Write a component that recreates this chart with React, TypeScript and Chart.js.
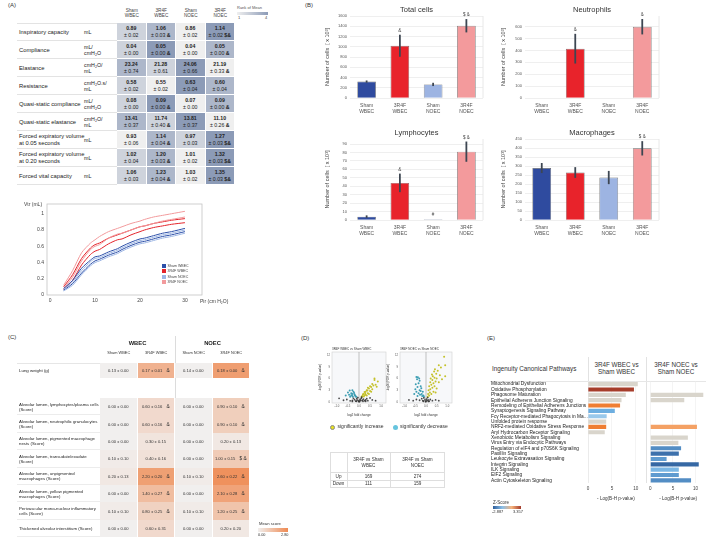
import React, { useEffect, useRef } from "react";
import { Chart, registerables } from "chart.js";

Chart.register(...registerables);
const FONT = "'Liberation Sans', Arial, Helvetica, sans-serif";
Chart.defaults.font.family = FONT;

// ================= DATA =================
const groups = ["Sham WBEC", "3R4F WBEC", "Sham NOEC", "3R4F NOEC"];

// Panel A – lung function table
const lfParams = [
  "Inspiratory capacity",
  "Compliance",
  "Elastance",
  "Resistance",
  "Quasi-static compliance",
  "Quasi-static elastance",
  "Forced expiratory volume\nat 0.05 seconds",
  "Forced expiratory volume\nat 0.20 seconds",
  "Forced vital capacity",
];
const lfUnits = ["mL", "mL/\ncmH₂O", "cmH₂O/\nmL", "cmH₂O.s/\nmL", "mL/\ncmH₂O", "cmH₂O/\nmL", "mL", "mL", "mL"];
const lfMeans = [
  [0.89, 1.06, 0.86, 1.14],
  [0.04, 0.05, 0.04, 0.05],
  [23.24, 21.28, 24.06, 21.19],
  [0.58, 0.55, 0.63, 0.6],
  [0.08, 0.09, 0.07, 0.09],
  [13.41, 11.74, 13.81, 11.1],
  [0.93, 1.14, 0.97, 1.27],
  [1.02, 1.2, 1.01, 1.32],
  [1.06, 1.23, 1.03, 1.35],
];
const lfSem = [
  [0.02, 0.03, 0.02, 0.02],
  [0.0, 0.0, 0.0, 0.0],
  [0.74, 0.61, 0.66, 0.33],
  [0.02, 0.02, 0.04, 0.04],
  [0.0, 0.0, 0.0, 0.0],
  [0.37, 0.4, 0.37, 0.26],
  [0.06, 0.04, 0.03, 0.03],
  [0.04, 0.03, 0.02, 0.03],
  [0.03, 0.04, 0.02, 0.03],
];
const lfMarks = [
  ["", "&", "", "$&"],
  ["", "&", "", "&"],
  ["", "", "", "&"],
  ["", "", "", ""],
  ["", "&", "", "&"],
  ["", "&", "", "&"],
  ["", "&", "", "$&"],
  ["", "&", "", "$&"],
  ["", "&", "", "$&"],
];
const lfRanks = [
  [2, 3, 1, 4],
  [2, 4, 1, 3],
  [3, 2, 4, 1],
  [2, 1, 4, 3],
  [2, 4, 1, 3],
  [3, 2, 4, 1],
  [1, 3, 2, 4],
  [2, 3, 1, 4],
  [2, 3, 1, 4],
];

// Panel A – pressure/volume curves
const pirPoints = [3, 5, 7, 9, 10, 11, 13, 15, 16, 18, 20, 21, 23, 25, 27, 30];
const vShamWbecUpper = [0.08, 0.18, 0.33, 0.43, 0.47, 0.48, 0.53, 0.57, 0.6, 0.65, 0.69, 0.7, 0.73, 0.76, 0.78, 0.82];
const vShamWbecLower = [0.06, 0.14, 0.27, 0.38, 0.42, 0.44, 0.49, 0.53, 0.56, 0.61, 0.65, 0.66, 0.69, 0.72, 0.74, 0.78];
const v3r4fWbecUpper = [0.1, 0.25, 0.45, 0.58, 0.62, 0.64, 0.7, 0.74, 0.76, 0.8, 0.84, 0.85, 0.88, 0.9, 0.92, 0.94];
const v3r4fWbecLower = [0.07, 0.18, 0.37, 0.5, 0.54, 0.56, 0.63, 0.68, 0.69, 0.74, 0.78, 0.8, 0.83, 0.85, 0.87, 0.89];
const vShamNoecUpper = [0.07, 0.16, 0.3, 0.41, 0.45, 0.46, 0.51, 0.55, 0.58, 0.63, 0.67, 0.68, 0.71, 0.74, 0.76, 0.8];
const vShamNoecLower = [0.05, 0.12, 0.25, 0.36, 0.4, 0.42, 0.47, 0.51, 0.54, 0.59, 0.63, 0.64, 0.67, 0.7, 0.72, 0.76];
const v3r4fNoecUpper = [0.12, 0.3, 0.52, 0.64, 0.68, 0.72, 0.78, 0.82, 0.84, 0.88, 0.91, 0.93, 0.96, 0.98, 1.0, 1.03];
const v3r4fNoecLower = [0.08, 0.22, 0.42, 0.56, 0.6, 0.62, 0.7, 0.75, 0.76, 0.8, 0.84, 0.85, 0.88, 0.91, 0.93, 0.96];

// Panel B – BALF cell counts (x10^3)
const totalCells = [320, 1020, 265, 1410];
const totalCellsErr = [22, 215, 32, 130];
const totalCellsSig = ["", "&", "", "$ &"];
const neutrophils = [3, 415, 2, 600];
const neutrophilsErr = [0, 125, 0, 65];
const neutrophilsSig = ["", "&", "", "&"];
const lymphocytes = [4, 44, 1, 81];
const lymphocytesErr = [1.5, 11, 0, 12];
const lymphocytesSig = ["", "&", "#", "$ &"];
const macrophages = [290, 265, 237, 400];
const macrophagesErr = [28, 30, 37, 40];
const macrophagesSig = ["", "", "", "$ &"];

// Panel C – histopathology
const lungWeight = [0.13, 0.17, 0.14, 0.18];
const lungWeightSem = [0.0, 0.01, 0.0, 0.0];
const lungWeightMarks = ["", "&", "", "&"];
const histoRows = [
  "Alveolar lumen, lymphocytes/plasma cells\n(Score)",
  "Alveolar lumen, neutrophilic granulocytes\n(Score)",
  "Alveolar lumen, pigmented macrophage\nnests (Score)",
  "Alveolar lumen, transudate/exudate\n(Score)",
  "Alveolar lumen, unpigmented\nmacrophages (Score)",
  "Alveolar lumen, yellow pigmented\nmacrophages (Score)",
  "Perivascular mono-nuclear inflammatory\ncells (Score)",
  "Thickened alveolar interstitium (Score)",
];
const histoMeans = [
  [0.0, 0.6, 0.0, 0.9],
  [0.0, 0.6, 0.0, 0.9],
  [0.0, 0.3, 0.0, 0.2],
  [0.1, 0.4, 0.0, 1.0],
  [0.2, 2.2, 0.1, 2.6],
  [0.0, 1.4, 0.0, 2.1],
  [0.1, 0.8, 0.1, 1.2],
  [0.0, 0.6, 0.0, 0.2],
];
const histoSem = [
  [0.0, 0.16, 0.0, 0.1],
  [0.0, 0.16, 0.0, 0.1],
  [0.0, 0.15, 0.0, 0.13],
  [0.1, 0.16, 0.0, 0.15],
  [0.13, 0.2, 0.1, 0.22],
  [0.0, 0.27, 0.0, 0.28],
  [0.1, 0.25, 0.1, 0.25],
  [0.0, 0.31, 0.0, 0.2],
];
const histoMarks = [
  ["", "&", "", "&"],
  ["", "&", "", "&"],
  ["", "", "", ""],
  ["", "", "", "$ &"],
  ["", "&", "", "&"],
  ["", "&", "", "&"],
  ["", "&", "", "&"],
  ["", "", "", ""],
];

// Panel D – volcano plots (log2 fold change, -log10 FDR p)
const volcWbecNs = [[-0.9, 0.9], [-0.7, 0.4], [-0.55, 0.6], [-0.4, 0.25], [-0.3, 0.35], [-0.25, 0.9], [-0.2, 0.55], [-0.15, 0.2], [-0.1, 0.8], [-0.08, 0.45], [-0.05, 1.1], [-0.02, 0.1], [0, 0.3], [0.02, 0.05], [0.05, 0.6], [0.08, 0.3], [0.1, 0.9], [0.12, 1.2], [0.15, 0.4], [0.2, 0.7], [0.25, 0.3], [0.3, 0.5], [0.35, 0.8], [0.4, 0.3], [0.5, 1.0], [0.6, 0.5], [0.75, 0.3], [-0.12, 0.15], [0.18, 0.12], [-0.3, 0.1], [0.3, 0.15]];
const volcWbecDown = [[-0.5, 2.4], [-0.45, 1.8], [-0.42, 2.9], [-0.4, 1.3], [-0.35, 2.2], [-0.35, 1.7], [-0.3, 1.5], [-0.3, 3.0], [-0.28, 1.3], [-0.25, 2.6], [-0.22, 2.3], [-0.2, 1.9], [-0.18, 1.6], [-0.15, 1.4], [-0.12, 1.3], [-0.6, 1.6], [-0.3, 2.0]];
const volcWbecUp = [[0.12, 1.3], [0.15, 1.5], [0.18, 1.9], [0.2, 2.0], [0.22, 1.4], [0.25, 2.5], [0.28, 2.2], [0.3, 1.8], [0.3, 2.6], [0.35, 3.0], [0.38, 2.9], [0.4, 2.2], [0.4, 3.6], [0.45, 3.4], [0.45, 2.0], [0.5, 2.8], [0.5, 4.0], [0.55, 3.8], [0.55, 2.6], [0.6, 3.2], [0.6, 4.6], [0.65, 4.2], [0.7, 5.6], [0.75, 4.4], [0.8, 3.9], [0.85, 5.2], [0.7, 6.0], [0.35, 1.6], [0.25, 1.7]];
const volcNoecNs = [[-0.8, 0.5], [-0.6, 0.3], [-0.45, 0.6], [-0.3, 0.4], [-0.2, 0.8], [-0.15, 0.3], [-0.1, 1.0], [-0.05, 0.5], [0, 0.2], [0.02, 0.7], [0.05, 0.3], [0.08, 1.1], [0.1, 0.5], [0.15, 0.2], [0.2, 0.6], [0.3, 0.3], [0.45, 0.5], [0.6, 0.3], [-0.02, 0.05], [0.12, 0.1], [-0.12, 0.15]];
const volcNoecDown = [[-0.55, 2.0], [-0.5, 3.2], [-0.48, 4.5], [-0.45, 2.6], [-0.42, 5.8], [-0.4, 3.8], [-0.38, 6.3], [-0.35, 2.2], [-0.35, 4.8], [-0.32, 6.0], [-0.3, 3.0], [-0.3, 5.4], [-0.28, 1.8], [-0.25, 4.0], [-0.25, 2.8], [-0.22, 3.5], [-0.2, 2.0], [-0.18, 1.5], [-0.15, 2.6], [-0.12, 1.6], [-0.1, 1.3], [-0.4, 1.5], [-0.45, 6.4]];
const volcNoecUp = [[0.08, 1.3], [0.1, 2.0], [0.12, 3.0], [0.15, 1.6], [0.15, 4.0], [0.18, 2.4], [0.2, 5.0], [0.2, 3.2], [0.22, 6.0], [0.25, 2.0], [0.25, 4.4], [0.28, 7.0], [0.3, 3.6], [0.3, 5.6], [0.32, 6.6], [0.35, 2.6], [0.35, 4.8], [0.38, 7.8], [0.4, 4.0], [0.4, 6.2], [0.42, 8.4], [0.45, 5.2], [0.48, 7.2], [0.5, 3.4], [0.5, 6.0], [0.55, 8.0], [0.6, 5.0], [0.65, 6.8], [0.7, 8.8], [0.75, 5.8], [0.85, 11.6], [0.9, 9.4], [0.9, 6.6], [0.6, 9.4], [0.45, 2.4]];
const volcTitles = ["3R4F WBEC vs Sham WBEC", "3R4F NOEC vs Sham NOEC"];

// Panel D – DEG table
const degComparisons = ["3R4F vs Sham\nWBEC", "3R4F vs Sham\nNOEC"];
const degUp = [169, 274];
const degDown = [111, 159];

// Panel E – IPA canonical pathways
const pathways = [
  "Mitochondrial Dysfunction",
  "Oxidative Phosphorylation",
  "Phagosome Maturation",
  "Epithelial Adherens Junction Signaling",
  "Remodeling of Epithelial Adherens Junctions",
  "Synaptogenesis Signaling Pathway",
  "Fcγ Receptor-mediated Phagocytosis in Ma...",
  "Unfolded protein response",
  "NRF2-mediated Oxidative Stress Response",
  "Aryl Hydrocarbon Receptor Signaling",
  "Xenobiotic Metabolism Signaling",
  "Virus Entry via Endocytic Pathways",
  "Regulation of eIF4 and p70S6K Signaling",
  "Paxillin Signaling",
  "Leukocyte Extravasation Signaling",
  "Integrin Signaling",
  "ILK Signaling",
  "EIF2 Signaling",
  "Actin Cytoskeleton Signaling",
];
const wbecLogP = [10.4, 9.6, 7.9, 7.0, 6.7, 5.6, 3.9, 3.8, 3.8, 3.5, null, null, null, null, null, null, null, null, null];
const wbecZ = [null, 3.3, null, null, 2.0, -1.2, -0.6, null, 2.0, null, null, null, null, null, null, null, null, null, null];
const noecLogP = [null, null, 11.7, 7.5, null, null, null, null, 10.3, null, 8.3, 6.2, 6.8, 6.3, 3.6, 10.7, 6.3, 6.3, 9.0];
const noecZ = [null, null, null, null, null, null, null, null, 1.2, null, null, null, -1.9, -2.5, -1.6, -2.7, -1.0, -1.6, -1.9];
const zRange = [-2.887, 3.357];

// ================= HELPERS =================
function hexRgb(c: string) {
  return [parseInt(c.slice(1, 3), 16), parseInt(c.slice(3, 5), 16), parseInt(c.slice(5, 7), 16)];
}
function mix(a: string, b: string, t: number) {
  const A = hexRgb(a), B = hexRgb(b);
  const k = Math.max(0, Math.min(1, t));
  return `rgb(${A.map((v, i) => Math.round(v + (B[i] - v) * k)).join(",")})`;
}
function rankColor(r: number) {
  return mix("#efefef", "#8c9bb7", (r - 1) / 3);
}
function scoreColor(v: number) {
  return mix("#f1efee", "#ef8a52", v / 2.8);
}
function weightColor(v: number) {
  return mix("#f1efee", "#ef8a52", (v - 0.14) / 0.05);
}
function zColor(z: number | null) {
  if (z === null) return "#d9d5cc";
  if (z < 0) {
    const t = Math.min(1, -z / -zRange[0]);
    return t < 0.4 ? mix("#c6e2f5", "#6fb0e2", t / 0.4) : mix("#6fb0e2", "#2f5f9c", (t - 0.4) / 0.6);
  }
  const t = Math.min(1, z / zRange[1]);
  return t < 0.6 ? mix("#fbd6ad", "#ef7d32", t / 0.6) : mix("#ef7d32", "#a33a2b", (t - 0.6) / 0.4);
}

function ChartCanvas({ x, y, w, h, make }: { x: number; y: number; w: number; h: number; make: () => any }) {
  const ref = useRef<HTMLCanvasElement>(null);
  useEffect(() => {
    const c = new Chart(ref.current as HTMLCanvasElement, make());
    return () => c.destroy();
  }, []);
  return (
    <canvas
      ref={ref}
      width={w}
      height={h}
      style={{ position: "absolute", left: x, top: y, width: w, height: h }}
    />
  );
}

function Txt(props: any) {
  const { x, y, s, b, c, w, align, lh, children, extra } = props;
  return (
    <div
      style={{
        position: "absolute",
        left: x,
        top: y,
        fontSize: s,
        fontWeight: b ? "bold" : "normal",
        color: c || "#222",
        whiteSpace: "pre",
        lineHeight: lh ? lh + "px" : 1.15,
        textAlign: align || "left",
        width: w,
        ...(extra || {}),
      }}
    >
      {children}
    </div>
  );
}

// explicit tick list from start to end with a given step
const fixedTicks = (start: number, end: number, step: number) => (scale: any) => {
  const t: any[] = [];
  const n = Math.round((end - start) / step);
  for (let k = 0; k <= n; k++) t.push({ value: Number((start + k * step).toFixed(6)) });
  scale.ticks = t;
};

// ================= PANEL A =================
function PanelATable() {
  const colX = [117, 146.5, 176, 205.5];
  const colW = 29.5;
  const rowH = 18;
  const top0 = 23;
  return (
    <>
      {groups.map((g, j) => (
        <Txt key={"h" + j} x={colX[j]} y={7.5} w={colW} s={4.7} c="#444" align="center" lh={5.6}>
          {g.replace(" ", "\n")}
        </Txt>
      ))}
      <Txt x={237} y={6} s={4} c="#555">Rank of Mean</Txt>
      <div
        style={{
          position: "absolute",
          left: 237,
          top: 12,
          width: 31,
          height: 3,
          background: `linear-gradient(to right, ${rankColor(1)}, ${rankColor(4)})`,
        }}
      />
      <Txt x={238} y={16} s={4} c="#444">1</Txt>
      <Txt x={265} y={16} s={4} c="#444">4</Txt>
      <div style={{ position: "absolute", left: 17, top: top0, width: 100, height: 0, borderTop: "0.8px solid #e3e3e3" }} />
      {lfParams.map((p, i) => {
        const y = top0 + i * rowH;
        return (
          <React.Fragment key={"r" + i}>
            <div
              style={{
                position: "absolute",
                left: 17,
                top: y,
                width: 100,
                height: rowH,
                boxSizing: "border-box",
                borderBottom: "0.8px solid #e3e3e3",
              }}
            />
            <div style={{ position: "absolute", left: 19, top: y, height: rowH, display: "flex", alignItems: "center" }}>
              <div style={{ fontSize: 5.8, lineHeight: "6.6px", whiteSpace: "pre", color: "#222" }}>{p}</div>
            </div>
            <div style={{ position: "absolute", left: 84, top: y, height: rowH, display: "flex", alignItems: "center" }}>
              <div style={{ fontSize: 5.3, lineHeight: "6.2px", whiteSpace: "pre", color: "#222" }}>{lfUnits[i]}</div>
            </div>
            {lfMeans[i].map((m, j) => (
              <div
                key={j}
                style={{
                  position: "absolute",
                  left: colX[j],
                  top: y,
                  width: colW,
                  height: rowH,
                  boxSizing: "border-box",
                  background: rankColor(lfRanks[i][j]),
                  borderRight: "0.8px solid #fff",
                  borderBottom: "0.8px solid #fff",
                  display: "flex",
                  flexDirection: "column",
                  alignItems: "center",
                  justifyContent: "center",
                  fontSize: 5.2,
                  lineHeight: "6.2px",
                  color: "#222",
                }}
              >
                <div style={{ fontWeight: "bold" }}>{m.toFixed(2)}</div>
                <div style={{ whiteSpace: "pre" }}>
                  {"± " + lfSem[i][j].toFixed(2)}
                  {lfMarks[i][j] ? <b>{" " + lfMarks[i][j]}</b> : null}
                </div>
              </div>
            ))}
          </React.Fragment>
        );
      })}
    </>
  );
}

const lineStyles = [
  { label: "Sham NOEC", color: "#9db6e4", upper: vShamNoecUpper, lower: vShamNoecLower },
  { label: "Sham WBEC", color: "#2c4fa8", upper: vShamWbecUpper, lower: vShamWbecLower },
  { label: "3R4F NOEC", color: "#f29a9c", upper: v3r4fNoecUpper, lower: v3r4fNoecLower },
  { label: "3R4F WBEC", color: "#e4242b", upper: v3r4fWbecUpper, lower: v3r4fWbecLower },
];
const legendOrder = [
  { label: "Sham WBEC", color: "#2c4fa8" },
  { label: "3R4F WBEC", color: "#e4242b" },
  { label: "Sham NOEC", color: "#9db6e4" },
  { label: "3R4F NOEC", color: "#f29a9c" },
];

function makeLineChart() {
  const datasets: any[] = [];
  lineStyles.forEach((s) => {
    [s.upper, s.lower].forEach((arr) => {
      datasets.push({
        label: s.label,
        data: pirPoints.map((p, k) => ({ x: p, y: arr[k] })),
        borderColor: s.color,
        borderWidth: 1,
        pointRadius: 0,
        showLine: true,
        fill: false,
        tension: 0.25,
      });
    });
  });
  return {
    type: "scatter",
    data: { datasets },
    options: {
      animation: false,
      responsive: false,
      events: [],
      layout: { padding: { top: 8, right: 8, left: 0, bottom: 0 } },
      plugins: { legend: { display: false }, tooltip: { enabled: false } },
      scales: {
        x: {
          type: "linear",
          min: -0.7,
          max: 33.8,
          grid: { display: false, drawTicks: false },
          border: { display: false },
          ticks: { font: { size: 5 }, color: "#444", padding: 3, callback: (v: any) => String(v) },
          afterBuildTicks: fixedTicks(0, 30, 10),
          afterFit: (s: any) => {
            s.height = 13;
          },
        },
        y: {
          min: 0,
          max: 1.12,
          grid: { display: false, drawTicks: false },
          border: { display: false },
          ticks: {
            font: { size: 5 },
            color: "#444",
            padding: 3,
            callback: (v: any) => String(Number(Number(v).toFixed(1))),
          },
          afterBuildTicks: fixedTicks(0, 1, 0.2),
          afterFit: (s: any) => {
            s.width = 22;
          },
        },
      },
    },
    plugins: [
      {
        id: "frame",
        beforeDatasetsDraw(chart: any) {
          const { ctx, chartArea: a } = chart;
          ctx.save();
          ctx.strokeStyle = "#c4c4c4";
          ctx.lineWidth = 0.8;
          ctx.strokeRect(a.left, a.top, a.width, a.height);
          ctx.restore();
        },
      },
    ],
  };
}

// ================= PANEL B =================
const barColors = ["#2f4b9f", "#e8232b", "#9db4e2", "#f39a9c"];

function makeBarChart(
  title: string,
  values: number[],
  errs: number[],
  sigs: string[],
  yMax: number,
  step: number,
  yAxisW: number,
  xAxisH: number
) {
  const lastTick = Math.floor(yMax / step + 1e-9) * step;
  return {
    type: "bar",
    data: {
      labels: groups.map((g) => g.split(" ")),
      datasets: [
        {
          data: values,
          backgroundColor: barColors,
          borderColor: "#6a6a6a",
          borderWidth: 0.7,
          barPercentage: 0.56,
          categoryPercentage: 1,
        },
      ],
    },
    options: {
      animation: false,
      responsive: false,
      events: [],
      layout: { padding: { top: 16, right: 5, left: 4, bottom: 0 } },
      plugins: { legend: { display: false }, tooltip: { enabled: false } },
      scales: {
        x: {
          grid: { display: false, drawTicks: false },
          border: { display: false },
          ticks: { font: { size: 5 }, color: "#555", padding: 5, maxRotation: 0, autoSkip: false },
          afterFit: (s: any) => {
            s.height = xAxisH;
          },
        },
        y: {
          min: 0,
          max: yMax,
          grid: { color: "#e8e8e8", lineWidth: 0.7, drawTicks: false },
          border: { display: false },
          ticks: { font: { size: 4 }, color: "#555", padding: 3, callback: (v: any) => String(v) },
          afterBuildTicks: fixedTicks(0, lastTick, step),
          title: { display: true, text: "Number of cells  [ x 10³]", font: { size: 5.5 }, color: "#444", padding: 0 },
          afterFit: (s: any) => {
            s.width = yAxisW;
          },
        },
      },
    },
    plugins: [
      {
        id: "extras",
        beforeDatasetsDraw(chart: any) {
          const { ctx, chartArea: a } = chart;
          ctx.save();
          ctx.strokeStyle = "#e2e2e2";
          ctx.lineWidth = 0.8;
          ctx.beginPath();
          ctx.moveTo(a.right, a.top);
          ctx.lineTo(a.right, a.bottom);
          ctx.stroke();
          ctx.restore();
        },
        afterDatasetsDraw(chart: any) {
          const { ctx, chartArea: a } = chart;
          const xs = chart.scales.x, ys = chart.scales.y;
          ctx.save();
          values.forEach((v, i) => {
            const px = xs.getPixelForValue(i);
            const e = errs[i];
            if (e > 0) {
              ctx.strokeStyle = "#3d4652";
              ctx.lineWidth = 1.8;
              ctx.beginPath();
              ctx.moveTo(px, ys.getPixelForValue(v + e));
              ctx.lineTo(px, ys.getPixelForValue(Math.max(0, v - e)));
              ctx.stroke();
            }
            if (sigs[i]) {
              ctx.fillStyle = "#444";
              ctx.font = `4.5px ${FONT}`;
              ctx.textAlign = "center";
              ctx.textBaseline = "bottom";
              ctx.fillText(sigs[i], px, ys.getPixelForValue(v + e) - 2);
            }
          });
          ctx.fillStyle = "#333";
          ctx.font = `7.5px ${FONT}`;
          ctx.textAlign = "center";
          ctx.textBaseline = "middle";
          ctx.fillText(title, (a.left + a.right) / 2, a.top - 6);
          ctx.restore();
        },
      },
    ],
  };
}

// ================= PANEL C =================
function CellValue({ m, s, mark }: { m: number; s: number; mark: string }) {
  return (
    <div style={{ display: "flex", alignItems: "center", justifyContent: "center", width: "100%", whiteSpace: "pre" }}>
      <span>{m.toFixed(2) + " ± " + s.toFixed(2)}</span>
      {mark ? <span style={{ marginLeft: 4, fontSize: 4.8 }}>{mark}</span> : null}
    </div>
  );
}

function PanelCTable() {
  const colX = [100, 137.5, 175, 212.5];
  const colW = 37.5;
  const rowY0 = 398;
  const rowH = 17.4;
  return (
    <>
      <Txt x={100} y={339.5} w={75} s={5.8} b c="#222" align="center">WBEC</Txt>
      <Txt x={175} y={339.5} w={75} s={5.8} b c="#222" align="center">NOEC</Txt>
      {groups.map((g, j) => (
        <Txt key={"ch" + j} x={colX[j]} y={350.5} w={colW} s={3.9} c="#333" align="center">{g}</Txt>
      ))}
      <div style={{ position: "absolute", left: 175, top: 336, width: 0, height: 201, borderLeft: "0.8px solid #dcdcdc" }} />
      <div style={{ position: "absolute", left: 17, top: 362.5, width: 233, height: 0, borderTop: "0.6px solid #e6e6e6" }} />
      <div style={{ position: "absolute", left: 19, top: 363, height: 15, display: "flex", alignItems: "center", fontSize: 4.4, color: "#222" }}>
        Lung weight (g)
      </div>
      {lungWeight.map((m, j) => (
        <div
          key={"lw" + j}
          style={{
            position: "absolute",
            left: colX[j],
            top: 363,
            width: colW,
            height: 15,
            background: weightColor(m),
            boxSizing: "border-box",
            borderRight: "0.8px solid #fff",
            display: "flex",
            alignItems: "center",
            fontSize: 4.1,
            color: "#333",
          }}
        >
          <CellValue m={m} s={lungWeightSem[j]} mark={lungWeightMarks[j]} />
        </div>
      ))}
      {histoRows.map((r, i) => {
        const y = rowY0 + i * rowH;
        return (
          <React.Fragment key={"hr" + i}>
            <div
              style={{
                position: "absolute",
                left: 17,
                top: y,
                width: 83,
                height: rowH,
                boxSizing: "border-box",
                borderBottom: "0.6px solid #ececec",
              }}
            />
            <div style={{ position: "absolute", left: 19, top: y, height: rowH, display: "flex", alignItems: "center" }}>
              <div style={{ fontSize: 4.3, lineHeight: "5px", whiteSpace: "pre", color: "#222" }}>{r}</div>
            </div>
            {histoMeans[i].map((m, j) => (
              <div
                key={j}
                style={{
                  position: "absolute",
                  left: colX[j],
                  top: y,
                  width: colW,
                  height: rowH,
                  background: scoreColor(m),
                  boxSizing: "border-box",
                  borderRight: "0.8px solid #fff",
                  display: "flex",
                  alignItems: "center",
                  fontSize: 4.1,
                  color: "#333",
                }}
              >
                <CellValue m={m} s={histoSem[i][j]} mark={histoMarks[i][j]} />
              </div>
            ))}
          </React.Fragment>
        );
      })}
      <Txt x={259} y={521.5} s={4.2} c="#333">Mean score</Txt>
      <div
        style={{
          position: "absolute",
          left: 258,
          top: 527.5,
          width: 30,
          height: 4,
          background: `linear-gradient(to right, ${scoreColor(0)}, ${scoreColor(2.8)})`,
        }}
      />
      <Txt x={258} y={532.5} s={3.8} c="#333">0.00</Txt>
      <Txt x={281} y={532.5} s={3.8} c="#333">2.80</Txt>
    </>
  );
}

// ================= PANEL D =================
function makeVolcano(title: string, ns: number[][], down: number[][], up: number[][], yAxisW: number, padRight: number) {
  const toPts = (a: number[][]) => a.map((p) => ({ x: p[0], y: p[1] }));
  return {
    type: "scatter",
    data: {
      datasets: [
        { data: toPts(ns), backgroundColor: "rgba(45,45,45,0.85)", pointRadius: 0.9, pointBorderWidth: 0 },
        { data: toPts(down), backgroundColor: "#3c9db2", pointRadius: 1.0, pointBorderWidth: 0 },
        { data: toPts(up), backgroundColor: "#c4c12a", pointRadius: 1.0, pointBorderWidth: 0 },
      ],
    },
    options: {
      animation: false,
      responsive: false,
      events: [],
      layout: { padding: { top: 8, right: padRight, left: 0, bottom: 0 } },
      plugins: { legend: { display: false }, tooltip: { enabled: false } },
      scales: {
        x: {
          type: "linear",
          min: -1.22,
          max: 1.22,
          grid: { display: false, drawTicks: false },
          border: { display: false },
          ticks: { font: { size: 2.8 }, color: "#555", padding: 2, callback: (v: any) => Number(v).toFixed(1) },
          afterBuildTicks: fixedTicks(-1, 1, 0.5),
          title: { display: true, text: "log2 fold change", font: { size: 3.2 }, color: "#333", padding: 0.5 },
          afterFit: (s: any) => {
            s.height = 15;
          },
        },
        y: {
          min: -0.3,
          max: 12.8,
          grid: { display: false, drawTicks: false },
          border: { display: false },
          ticks: { font: { size: 2.8 }, color: "#555", padding: 2, callback: (v: any) => String(v) },
          afterBuildTicks: fixedTicks(0, 12, 3),
          title: { display: true, text: "-log10(FDR p-value)", font: { size: 3 }, color: "#333", padding: 0 },
          afterFit: (s: any) => {
            s.width = yAxisW;
          },
        },
      },
    },
    plugins: [
      {
        id: "volc",
        beforeDatasetsDraw(chart: any) {
          const { ctx, chartArea: a } = chart;
          const x0 = chart.scales.x.getPixelForValue(0);
          ctx.save();
          ctx.fillStyle = "#f7f8fa";
          ctx.fillRect(a.left, a.top, a.width, a.height);
          ctx.strokeStyle = "#d0d0d0";
          ctx.lineWidth = 0.6;
          ctx.strokeRect(a.left, a.top, a.width, a.height);
          ctx.strokeStyle = "#9a9a9a";
          ctx.beginPath();
          ctx.moveTo(x0, a.top);
          ctx.lineTo(x0, a.bottom);
          ctx.stroke();
          ctx.fillStyle = "#333";
          ctx.font = `3px ${FONT}`;
          ctx.textAlign = "left";
          ctx.textBaseline = "bottom";
          ctx.fillText(title, a.left, a.top - 1.5);
          ctx.restore();
        },
      },
    ],
  };
}

function PanelDTable() {
  const L = 330, R = 445, T = 452;
  const c1 = 347, c2 = 390;
  const r1 = 472, r2 = 480, B = 487.5;
  const line = "0.7px solid #dedede";
  return (
    <>
      <div style={{ position: "absolute", left: L, top: T, width: R - L, height: B - T, border: line, boxSizing: "border-box" }} />
      <div style={{ position: "absolute", left: c1, top: T, width: 0, height: B - T, borderLeft: line }} />
      <div style={{ position: "absolute", left: c2, top: T, width: 0, height: B - T, borderLeft: line }} />
      <div style={{ position: "absolute", left: L, top: r1, width: R - L, height: 0, borderTop: line }} />
      <div style={{ position: "absolute", left: L, top: r2, width: R - L, height: 0, borderTop: line }} />
      <Txt x={c1} y={457} w={c2 - c1} s={4.6} c="#333" align="center" lh={5.6}>{degComparisons[0]}</Txt>
      <Txt x={c2} y={457} w={R - c2} s={4.6} c="#333" align="center" lh={5.6}>{degComparisons[1]}</Txt>
      <Txt x={L} y={473.5} w={c1 - L} s={4.6} c="#333" align="center">Up</Txt>
      <Txt x={L} y={481.2} w={c1 - L} s={4.6} c="#333" align="center">Down</Txt>
      <Txt x={c1} y={473.5} w={c2 - c1} s={4.6} c="#333" align="center">{String(degUp[0])}</Txt>
      <Txt x={c2} y={473.5} w={R - c2} s={4.6} c="#333" align="center">{String(degUp[1])}</Txt>
      <Txt x={c1} y={481.2} w={c2 - c1} s={4.6} c="#333" align="center">{String(degDown[0])}</Txt>
      <Txt x={c2} y={481.2} w={R - c2} s={4.6} c="#333" align="center">{String(degDown[1])}</Txt>
    </>
  );
}

// ================= PANEL E =================
function makePathwayChart(values: (number | null)[], zs: (number | null)[], showLabels: boolean, xMax: number, padLeft: number, padRight: number) {
  const yScale: any = {
    display: showLabels,
    grid: { display: false, drawTicks: false },
    border: { display: false },
    ticks: { font: { size: 4.8 }, color: "#222", padding: 1, crossAlign: "far", autoSkip: false },
  };
  if (showLabels) {
    yScale.afterFit = (s: any) => {
      s.width = 97;
    };
  }
  return {
    type: "bar",
    data: {
      labels: pathways,
      datasets: [
        {
          data: values,
          backgroundColor: zs.map((z) => zColor(z)),
          borderWidth: 0,
          barPercentage: 0.78,
          categoryPercentage: 1,
        },
      ],
    },
    options: {
      indexAxis: "y",
      animation: false,
      responsive: false,
      events: [],
      layout: { padding: { top: 5.5, right: padRight, left: padLeft, bottom: 0 } },
      plugins: { legend: { display: false }, tooltip: { enabled: false } },
      scales: {
        x: {
          type: "linear",
          min: 0,
          max: xMax,
          grid: { color: "#efefef", lineWidth: 0.7, drawTicks: false },
          border: { display: false },
          ticks: { font: { size: 4.6 }, color: "#444", padding: 3, callback: (v: any) => String(v) },
          afterBuildTicks: fixedTicks(0, 10, 5),
          title: { display: true, text: "- Log(B-H p-value)", font: { size: 4.6 }, color: "#333", padding: 1 },
          afterFit: (s: any) => {
            s.height = 19;
          },
        },
        y: yScale,
      },
    },
  };
}

// ================= APP =================
export default function App() {
  return (
    <div
      style={{
        position: "absolute",
        left: 0,
        top: 0,
        width: 709,
        height: 542,
        background: "#fff",
        overflow: "hidden",
        fontFamily: FONT,
      }}
    >
      {/* Panel labels */}
      <Txt x={8} y={2} s={6} c="#333">(A)</Txt>
      <Txt x={305} y={2} s={6} c="#333">(B)</Txt>
      <Txt x={8} y={334} s={6} c="#333">(C)</Txt>
      <Txt x={301} y={334.5} s={6} c="#333">(D)</Txt>
      <Txt x={487} y={334.5} s={6} c="#333">(E)</Txt>

      {/* Panel A */}
      <PanelATable />
      <ChartCanvas x={25} y={196} w={185} h={112} make={makeLineChart} />
      <Txt x={24} y={202} s={5} c="#444">Vtr (mL)</Txt>
      <Txt x={200} y={299} s={5} c="#444">Pir (cm H₂O)</Txt>
      <div style={{ position: "absolute", left: 161, top: 262, width: 28, height: 24, background: "#fff" }}>
        {legendOrder.map((l, k) => (
          <div key={k} style={{ position: "absolute", left: 1, top: 1.5 + k * 5.6, display: "flex", alignItems: "center" }}>
            <div style={{ width: 4, height: 4, background: l.color }} />
            <div style={{ fontSize: 3.6, marginLeft: 1.5, color: "#444", whiteSpace: "pre", lineHeight: "4px" }}>{l.label}</div>
          </div>
        ))}
      </div>

      {/* Panel B */}
      <ChartCanvas
        x={320}
        y={0}
        w={168}
        h={118}
        make={() => makeBarChart("Total cells", totalCells, totalCellsErr, totalCellsSig, 1600, 200, 26, 20)}
      />
      <ChartCanvas
        x={496}
        y={0}
        w={168}
        h={118}
        make={() => makeBarChart("Neutrophils", neutrophils, neutrophilsErr, neutrophilsSig, 690, 100, 25, 20)}
      />
      <ChartCanvas
        x={320}
        y={123}
        w={168}
        h={118}
        make={() => makeBarChart("Lymphocytes", lymphocytes, lymphocytesErr, lymphocytesSig, 96, 10, 26, 21)}
      />
      <ChartCanvas
        x={496}
        y={123}
        w={168}
        h={118}
        make={() => makeBarChart("Macrophages", macrophages, macrophagesErr, macrophagesSig, 452, 50, 25, 21)}
      />

      {/* Panel C */}
      <PanelCTable />

      {/* Panel D */}
      <ChartCanvas x={318} y={344} w={72} h={74} make={() => makeVolcano(volcTitles[0], volcWbecNs, volcWbecDown, volcWbecUp, 14, 3)} />
      <ChartCanvas x={386} y={344} w={72} h={74} make={() => makeVolcano(volcTitles[1], volcNoecNs, volcNoecDown, volcNoecUp, 14, 6)} />
      <div style={{ position: "absolute", left: 330, top: 424.5, width: 5, height: 5, borderRadius: "50%", background: "#e8e21e", boxSizing: "border-box", border: "0.6px solid #888" }} />
      <Txt x={337.5} y={424} s={5} c="#333">significantly increase</Txt>
      <div style={{ position: "absolute", left: 393, top: 424.5, width: 5, height: 5, borderRadius: "50%", background: "#66c4de" }} />
      <Txt x={400} y={424} s={5} c="#333">significantly decrease</Txt>
      <PanelDTable />

      {/* Panel E */}
      <Txt x={492} y={364.5} s={6.3} c="#333">Ingenuity Canonical Pathways</Txt>
      <Txt x={588} y={360.5} w={57} s={6.3} c="#333" align="center" lh={7.5}>{"3R4F WBEC vs\nSham WBEC"}</Txt>
      <Txt x={646} y={360.5} w={60} s={6.3} c="#333" align="center" lh={7.5}>{"3R4F NOEC vs\nSham NOEC"}</Txt>
      <div style={{ position: "absolute", left: 588, top: 357, width: 0, height: 126, borderLeft: "0.7px solid #e2e2e2" }} />
      <div style={{ position: "absolute", left: 645.5, top: 357, width: 0, height: 126, borderLeft: "0.7px solid #e2e2e2" }} />
      <div style={{ position: "absolute", left: 490, top: 380.5, width: 216, height: 0, borderTop: "0.7px solid #e6e6e6" }} />
      <ChartCanvas x={488} y={376} w={160} h={126} make={() => makePathwayChart(wbecLogP, wbecZ, true, 11.7, 3, 4)} />
      <ChartCanvas x={646} y={376} w={63} h={126} make={() => makePathwayChart(noecLogP, noecZ, false, 12.3, 2, 3)} />
      <Txt x={493} y={500} s={4.5} c="#333">Z-Score</Txt>
      <div
        style={{
          position: "absolute",
          left: 493,
          top: 505.5,
          width: 28,
          height: 3.5,
          background: `linear-gradient(to right, ${zColor(zRange[0])}, ${zColor(-0.8)}, ${zColor(0.8)}, ${zColor(zRange[1])})`,
        }}
      />
      <Txt x={492} y={510} s={4} c="#333">{zRange[0].toFixed(3)}</Txt>
      <Txt x={513} y={510} s={4} c="#333">{zRange[1].toFixed(3)}</Txt>
    </div>
  );
}
